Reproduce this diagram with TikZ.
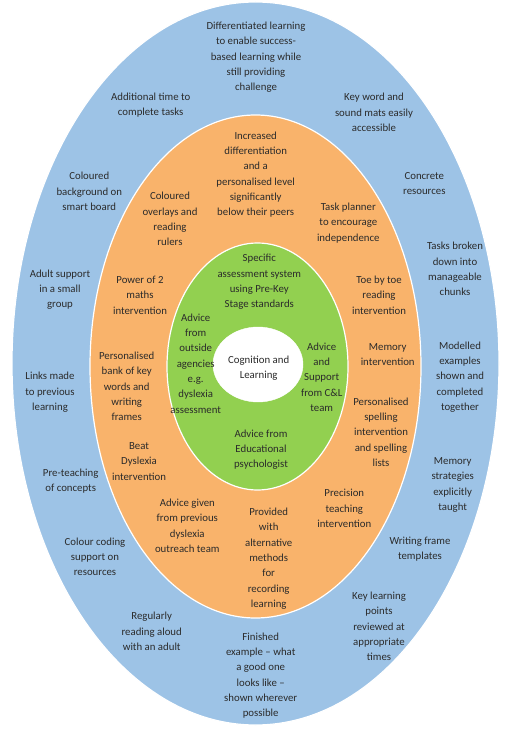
\documentclass[tikz,border=0pt]{standalone}
\usepackage{fontspec}
\setmainfont{Carlito}
\definecolor{ringblue}{HTML}{9DC3E6}
\definecolor{ringorange}{HTML}{F9B36B}
\definecolor{ringgreen}{HTML}{92D050}
\definecolor{txt}{HTML}{2B2B2B}
\begin{document}
\begin{tikzpicture}[x=1pt,y=-1pt,
  ring/.style={draw=white,line width=1.2pt},
  lbl/.style={align=center,inner sep=0pt,text=txt,font=\fontsize{10.8}{15.3}\selectfont}]
\useasboundingbox (0,0) rectangle (512,735);
% rings
\fill[ringblue,ring] (255.5,363.5) ellipse [x radius=243.5, y radius=361.5];
\filldraw[fill=ringorange,ring] (255.5,366.5) ellipse [x radius=165.5, y radius=251.5];
\filldraw[fill=ringgreen,ring] (257.5,366.5) ellipse [x radius=90.5, y radius=123.5];
\filldraw[fill=white,draw=white] (258,364.5) ellipse [x radius=45, y radius=37.5];
% outer ring texts
\node[lbl] (b1) at (256,57.3) {Differentiated learning\\to enable success-\\based learning while\\still providing\\challenge};
\node[lbl] (b2) at (150.7,105) {Additional time to\\complete tasks};
\node[lbl] (b3) at (374,112.3) {Key word and\\sound mats easily\\accessible};
\node[lbl] (b4) at (89.3,191.3) {Coloured\\background on\\smart board};
\node[lbl] (b5) at (424.3,183.7) {Concrete\\resources};
\node[lbl] (b6) at (455,269) {Tasks broken\\down into\\manageable\\chunks};
\node[lbl] (b7) at (60,289.7) {Adult support\\in a small\\group};
\node[lbl] (b8) at (50,392.3) {Links made\\to previous\\learning};
\node[lbl] (b9) at (460,377) {Modelled\\examples\\shown and\\completed\\together};
\node[lbl] (b10) at (452.7,485) {Memory\\strategies\\explicitly\\taught};
\node[lbl] (b11) at (70.7,481) {Pre-teaching\\of concepts};
\node[lbl] (b12) at (95,556.7) {Colour coding\\support on\\resources};
\node[lbl] (b13) at (420,548.8) {Writing frame\\templates};
\node[lbl] (b14) at (151.7,631.5) {Regularly\\reading aloud\\with an adult};
\node[lbl] (b15) at (379,626.5) {Key learning\\points\\reviewed at\\appropriate\\times};
\node[lbl] (b16) at (260.7,675.5) {Finished\\example – what\\a good one\\looks like –\\shown wherever\\possible};
% middle ring texts
\node[lbl] (o1) at (255.7,174.5) {Increased\\differentiation\\and a\\personalised level\\significantly\\below their peers};
\node[lbl] (o2) at (170,219) {Coloured\\overlays and\\reading\\rulers};
\node[lbl] (o3) at (348.3,223) {Task planner\\to encourage\\independence};
\node[lbl] (o4) at (140,295.2) {Power of 2\\maths\\intervention};
\node[lbl] (o5) at (379,295.2) {Toe by toe\\reading\\intervention};
\node[lbl] (o6) at (387.7,354.3) {Memory\\intervention};
\node[lbl] (o7) at (126.7,386.3) {Personalised\\bank of key\\words and\\writing\\frames};
\node[lbl] (o8) at (381,432) {Personalised\\spelling\\intervention\\and spelling\\lists};
\node[lbl] (o9) at (139,461.5) {Beat\\Dyslexia\\intervention};
\node[lbl] (o10) at (187.3,525.8) {Advice given\\from previous\\dyslexia\\outreach team};
\node[lbl] (o11) at (268.7,558.7) {Provided\\with\\alternative\\methods\\for\\recording\\learning};
\node[lbl] (o12) at (344.3,508.6) {Precision\\teaching\\intervention};
% inner ring texts
\node[lbl] (g1) at (259.3,282) {Specific\\assessment system\\using Pre-Key\\Stage standards};
\node[lbl] (g2) at (195.7,363.5) {Advice\\from\\outside\\agencies\\e.g.\\dyslexia\\assessment};
\node[lbl] (g3) at (321.7,377) {Advice\\and\\Support\\from C\&L\\team};
\node[lbl] (g4) at (261,449.5) {Advice from\\Educational\\psychologist};
% centre
\node[lbl] (c) at (258.7,368.3) {Cognition and\\Learning};
\end{tikzpicture}
\end{document}
